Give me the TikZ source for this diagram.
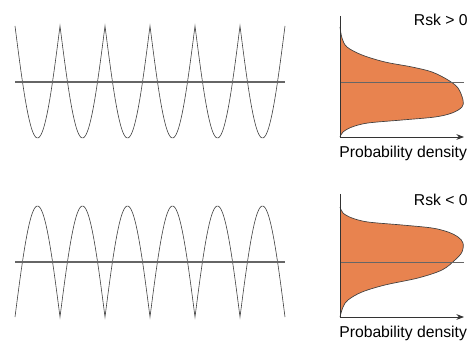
\documentclass[tikz,border=0pt]{standalone}
\usepackage{fontspec}
\setmainfont{Liberation Sans}
\usepackage{tikz}
\usetikzlibrary{arrows.meta}
\definecolor{pdforange}{HTML}{E8834F}
\begin{document}
\begin{tikzpicture}[
  x=0.75pt, y=-0.75pt, >=Stealth,
  font=\fontsize{11.8}{14}\selectfont,
  wave/.style={gray!50!black,line width=0.45pt},
  mean/.style={gray!80!black,line width=0.9pt},
  axis/.style={black!80,line width=0.6pt},
  pdf/.style={draw=black!75,line width=0.5pt},
  lbl/.style={anchor=east,inner sep=0pt},
]
\useasboundingbox (0,0) rectangle (471,342);
% profiles
\draw[wave] plot[domain=15:285,samples=271] (\x,{26+112*abs(sin(4*(\x-15)))});
\draw[wave] plot[domain=15:285,samples=271] (\x,{317-111*abs(sin(4*(\x-15)))});
\draw[mean] (15,82) -- (285,82);
\draw[mean] (15,262) -- (285,262);
% densities
\fill[pdforange] plot[smooth,tension=0.55] coordinates
  {(340,27) (342,38) (347,47) (362,55) (385,62) (412,67) (432,72) (448,80) (458,88) (463,100)
   (462,107) (452,113) (435,117) (402,120) (368,123) (352,127) (343,132) (340,137)} -- cycle;
\draw[pdf] plot[smooth,tension=0.55] coordinates
  {(340,27) (342,38) (347,47) (362,55) (385,62) (412,67) (432,72) (448,80) (458,88) (463,100)
   (462,107) (452,113) (435,117) (402,120) (368,123) (352,127) (343,132) (340,137)};
\fill[pdforange] plot[smooth,tension=0.55] coordinates
  {(340,207) (343,213) (352,218) (368,222) (402,225) (432,228) (448,232) (458,237) (463,243)
   (462,252) (455,260) (442,270) (418,278) (385,285) (362,292) (348,300) (343,307) (340,317)} -- cycle;
\draw[pdf] plot[smooth,tension=0.55] coordinates
  {(340,207) (343,213) (352,218) (368,222) (402,225) (432,228) (448,232) (458,237) (463,243)
   (462,252) (455,260) (442,270) (418,278) (385,285) (362,292) (348,300) (343,307) (340,317)};
\draw[mean,line width=0.6pt] (340,82) -- (464,82);
\draw[mean,line width=0.6pt] (340,262) -- (464,262);
% axes
\coordinate (o1) at (340,137);
\coordinate (o2) at (340,317);
\draw[axis] (340,16) -- (o1);
\draw[axis,->] (o1) -- (464,137);
\draw[axis] (340,194) -- (o2);
\draw[axis,->] (o2) -- (464,317);
% labels
\node[lbl] (r1) at (468,20) {Rsk > 0};
\node[lbl] (r2) at (468,200) {Rsk < 0};
\node[anchor=north west,inner sep=0pt] (p1) at (339,146) {Probability density};
\node[anchor=north west,inner sep=0pt] (p2) at (339,326) {Probability density};
\end{tikzpicture}
\end{document}
